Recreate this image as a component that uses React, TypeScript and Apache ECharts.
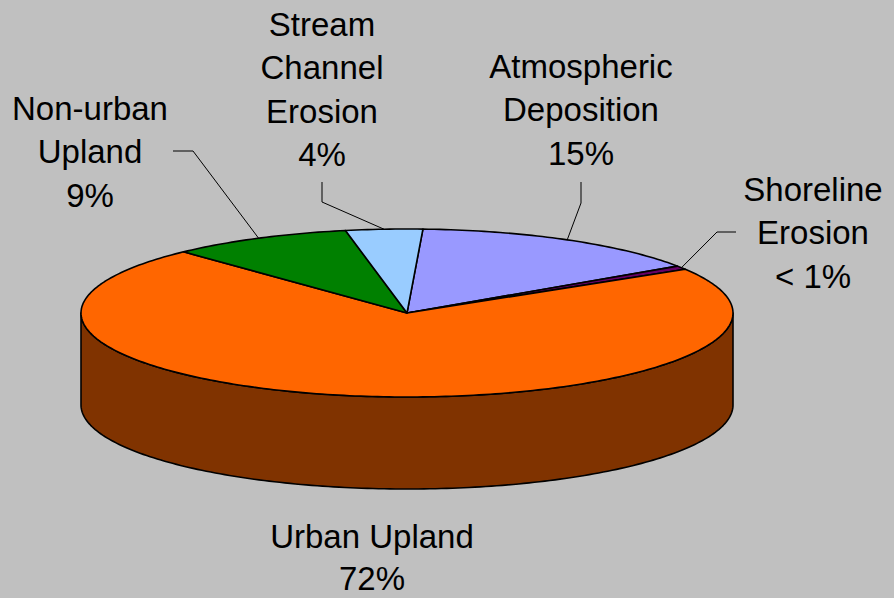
import React, { useEffect, useRef } from "react";
import * as echarts from "echarts";

// ---- data ----
const categories = [
  "Atmospheric\nDeposition",
  "Shoreline\nErosion",
  "Urban Upland",
  "Non-urban\nUpland",
  "Stream\nChannel\nErosion",
];
const values = [14.8, 0.7, 71.7, 9.0, 3.8];

// ---- styles / layout ----
const topColors = ["#9999ff", "#660066", "#ff6600", "#008000", "#99ccff"];
const sideColors = ["#4d4d80", "#330033", "#803300", "#004000", "#4d6680"];
const START_ANGLE = 2.8; // degrees clockwise from 12 o'clock
const PIE = { cx: 407, cy: 313, rx: 326, ry: 84, depth: 92 };
// centre x of label, centre y of first line, line spacing
const labelPos: number[][] = [
  [581, 66, 43.5],
  [813, 189, 43.5],
  [372, 536, 42],
  [90, 108, 43.5],
  [322, 24, 43.5],
];
const leaderPts: (number[][] | null)[] = [
  [[581, 182], [581, 203]],
  [[736, 232], [717, 232]],
  null,
  [[173, 151], [193, 151]],
  [[322, 182], [322, 202]],
];

function pctText(v: number, total: number) {
  const p = (v / total) * 100;
  return p < 1 ? "< 1%" : Math.round(p) + "%";
}

export default function App() {
  const ref = useRef<HTMLDivElement>(null);
  useEffect(() => {
    document.body.style.margin = "0";
    const chart = echarts.init(ref.current!, null, { renderer: "svg" });
    const total = values.reduce((a, b) => a + b, 0);
    const angles: number[][] = [];
    let acc = START_ANGLE;
    values.forEach((v) => {
      const s = acc;
      acc += (v / total) * 360;
      angles.push([s, acc]);
    });
    const { cx, cy, rx, ry, depth } = PIE;
    const pt = (deg: number, dy = 0) => {
      const r = (deg * Math.PI) / 180;
      return [cx + rx * Math.sin(r), cy - ry * Math.cos(r) + dy];
    };
    const arc = (a: number, b: number, dy: number) => {
      const pts: number[][] = [];
      const n = Math.max(2, Math.ceil(Math.abs(b - a)));
      for (let i = 0; i <= n; i++) pts.push(pt(a + ((b - a) * i) / n, dy));
      return pts;
    };

    const renderItem = (params: any) => {
      const i = params.dataIndex;
      const [s, e] = angles[i];
      const children: any[] = [];
      for (const off of [0, 360]) {
        const a = Math.max(s, 90 + off);
        const b = Math.min(e, 270 + off);
        if (b > a) {
          children.push({
            type: "polygon",
            z2: 1,
            shape: { points: [...arc(a, b, 0), ...arc(b, a, depth)] },
            style: { fill: sideColors[i], stroke: "#000", lineWidth: 1.6, lineJoin: "round" },
          });
        }
      }
      children.push({
        type: "polygon",
        z2: 2,
        shape: { points: [[cx, cy], ...arc(s, e, 0)] },
        style: { fill: topColors[i], stroke: "#000", lineWidth: 1.6, lineJoin: "round" },
      });
      const lp = leaderPts[i];
      if (lp) {
        children.push({
          type: "polyline",
          z2: 5,
          shape: { points: [...lp, pt((s + e) / 2)] },
          style: { stroke: "#000", lineWidth: 1, fill: null },
        });
      }
      const lines = (categories[i] + "\n" + pctText(values[i], total)).split("\n");
      lines.forEach((line, k) => {
        children.push({
          type: "text",
          z2: 6,
          x: labelPos[i][0],
          y: labelPos[i][1] + k * labelPos[i][2],
          style: {
            text: line,
            fontSize: 33,
            fontFamily: "Liberation Sans, Arial, sans-serif",
            fill: "#000",
            align: "center",
            verticalAlign: "middle",
          },
        });
      });
      return { type: "group", children };
    };

    chart.setOption({
      animation: false,
      backgroundColor: "#c0c0c0",
      series: [
        {
          type: "custom",
          coordinateSystem: "none",
          renderItem,
          data: values.map((v, i) => ({ value: v, name: categories[i] })),
        },
      ],
    });
    return () => chart.dispose();
  }, []);
  return (
    <div
      ref={ref}
      style={{ position: "fixed", left: 0, top: 0, width: 894, height: 598 }}
    />
  );
}
